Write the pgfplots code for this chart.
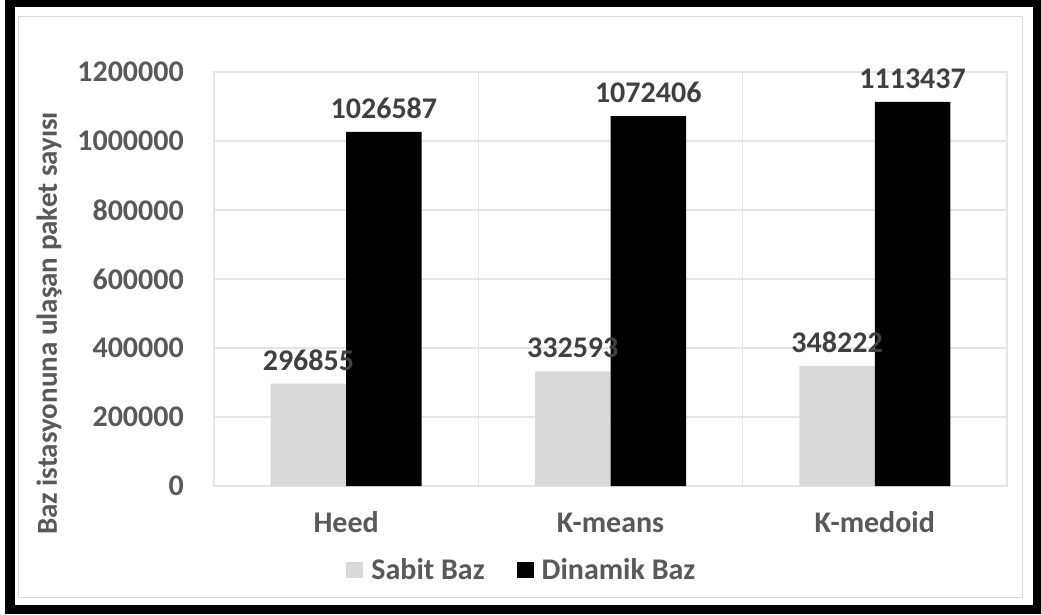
\documentclass[border=0pt]{standalone}
\usepackage{pgfplots}
\pgfplotsset{compat=1.18}
\usepackage{fontspec}
\setmainfont{Carlito}
\definecolor{barg}{HTML}{D9D9D9}
\definecolor{gridc}{HTML}{E6E6E6}
\definecolor{tickc}{HTML}{595959}
\definecolor{labc}{HTML}{404040}
\begin{document}
\begin{tikzpicture}
% image px (X,Y) -> (X-214, 486-Y) pt
\useasboundingbox (-214pt,-128pt) rectangle (827pt,486pt);
\fill[black] (-209pt,-128pt) rectangle (827pt,486pt);
\fill[white] (-199pt,-119pt) rectangle (819pt,479pt);
\draw[barg, line width=1pt] (-195pt,-111pt) rectangle (808pt,469pt);
\begin{axis}[
  at={(0pt,0pt)}, anchor=south west,
  scale only axis, width=793pt, height=414pt,
  xmin=-0.5, xmax=2.5, ymin=0, ymax=1200000,
  ytick={0,200000,400000,600000,800000,1000000,1200000},
  scaled y ticks=false,
  /pgf/number format/fixed,
  /pgf/number format/precision=0,
  /pgf/number format/1000 sep={},
  /pgf/number format/assume math mode=true,
  xtick={0,1,2}, xticklabels={Heed,K-means,K-medoid},
  minor xtick={0.5,1.5},
  xminorgrids, ymajorgrids,
  major tick length=0pt, minor tick length=0pt,
  grid style={draw=gridc, line width=1.2pt},
  minor grid style={draw=gridc, line width=1.2pt},
  axis line style={draw=gridc, line width=1.2pt},
  tick label style={font=\fontsize{30}{36}\selectfont\bfseries, text=tickc, inner sep=0pt},
  y tick label style={anchor=east, xshift=-30pt},
  x tick label style={anchor=base, yshift=-46pt},
  ybar=0pt, bar width=75.5pt,
  point meta=explicit symbolic,
  nodes near coords,
  nodes near coords style={font=\fontsize{30}{36}\selectfont\bfseries, text=labc, anchor=south, yshift=13pt, inner sep=0pt},
  ylabel={Baz istasyonuna ulaşan paket sayısı},
  every axis y label/.style={at={(axis description cs:-0.198,0.3925)}, rotate=90, anchor=base, font=\fontsize{29}{34}\selectfont\bfseries, text=tickc, inner sep=0pt},
  legend columns=2,
  legend image code/.code={\fill[#1] (0pt,-8pt) rectangle (17pt,8pt);},
  legend style={at={(axis description cs:0.387,-0.203)}, anchor=center, draw=none, fill=none,
    font=\fontsize{30}{36}\selectfont\bfseries, text=tickc, inner sep=0pt, nodes={inner sep=0pt},
    /tikz/every odd column/.append style={column sep=8pt},
    /tikz/every even column/.append style={column sep=32pt}},
]
\addplot[fill=barg, draw=none] coordinates {(0,296855) [296855] (1,332593) [332593] (2,348222) [348222]};
\addplot[fill=black, draw=none] coordinates {(0,1026587) [1026587] (1,1072406) [1072406] (2,1113437) [1113437]};
\legend{Sabit Baz, Dinamik Baz}
\end{axis}
\end{tikzpicture}
\end{document}
